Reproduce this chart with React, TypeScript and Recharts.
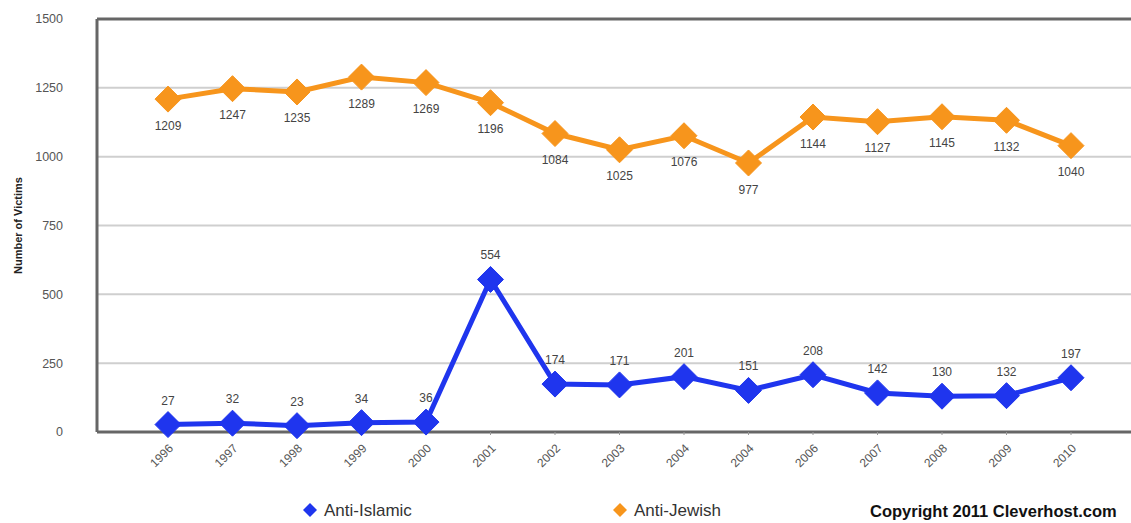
import { LineChart, Line, XAxis, YAxis, CartesianGrid, Legend, LabelList, ReferenceLine } from 'recharts';

const YEARS = ['1996', '1997', '1998', '1999', '2000', '2001', '2002', '2003', '2004', '2004', '2006', '2007', '2008', '2009', '2010'];
const ANTI_ISLAMIC = [27, 32, 23, 34, 36, 554, 174, 171, 201, 151, 208, 142, 130, 132, 197];
const ANTI_JEWISH = [1209, 1247, 1235, 1289, 1269, 1196, 1084, 1025, 1076, 977, 1144, 1127, 1145, 1132, 1040];
const Y_TICKS = [0, 250, 500, 750, 1000, 1250, 1500];

const BLUE = '#1f35ee';
const ORANGE = '#f7951c';
const FONT = '"Liberation Sans", Arial, sans-serif';

const data = YEARS.map((year, i) => ({
  year,
  islamic: ANTI_ISLAMIC[i],
  jewish: ANTI_JEWISH[i],
}));

// diamond marker
const Diamond = (color: string, r: number) => (props: any) => {
  const { cx, cy, index } = props;
  if (cx == null || cy == null) return <g key={index} />;
  return (
    <polygon
      key={index}
      points={`${cx},${cy - r} ${cx + r},${cy} ${cx},${cy + r} ${cx - r},${cy}`}
      fill={color}
      stroke={color}
      strokeWidth={1}
    />
  );
};

const YearTick = (props: any) => {
  const { x, y, payload } = props;
  return (
    <g transform={`translate(${x + 6},${y + 12})`}>
      <text textAnchor="end" transform="rotate(-45)" fill="#555" fontSize={12} fontFamily={FONT}>
        {payload.value}
      </text>
    </g>
  );
};

const LegendContent = () => (
  <div style={{ position: 'relative', height: 24, fontFamily: FONT }}>
    <svg width={1131} height={24} style={{ position: 'absolute', left: 0, top: 0 }}>
      <polygon points="310,5 317,12 310,19 303,12" fill={BLUE} />
      <text x={324} y={18} fontSize={17} fill="#333" fontFamily={FONT}>Anti-Islamic</text>
      <polygon points="620,5 627,12 620,19 613,12" fill={ORANGE} />
      <text x={634} y={18} fontSize={17} fill="#333" fontFamily={FONT}>Anti-Jewish</text>
      <text x={870} y={19} fontSize={16.5} fontWeight="bold" fill="#111" fontFamily={FONT}>Copyright 2011 Cleverhost.com</text>
    </svg>
  </div>
);

export default function App() {
  return (
    <div style={{ position: 'absolute', left: 0, top: 0, width: 1131, height: 523, background: '#fff' }}>
      <LineChart width={1131} height={523} data={data} margin={{ top: 19, right: 0, left: 0, bottom: 0 }}>
        <CartesianGrid horizontal vertical={false} stroke="#cfcfcf" strokeWidth={2} />
        <XAxis
          dataKey="year"
          allowDuplicatedCategory
          padding={{ left: 71, right: 60 }}
          tick={<YearTick />}
          interval={0}
          height={66}
          axisLine={{ stroke: '#666', strokeWidth: 3 }}
          tickLine={{ stroke: '#999' }}
          tickSize={3}
        />
        <YAxis
          domain={[0, 1500]}
          ticks={Y_TICKS}
          width={97}
          tickSize={0}
          tickMargin={34}
          tick={{ fill: '#555', fontSize: 12.5, fontFamily: FONT }}
          axisLine={{ stroke: '#666', strokeWidth: 3 }}
          label={{
            value: 'Number of Victims',
            angle: -90,
            position: 'insideLeft',
            offset: 18,
            style: { fontSize: 11, fontWeight: 'bold', fill: '#222', fontFamily: FONT, textAnchor: 'middle' },
          }}
        />
        <ReferenceLine y={1500} stroke="#666" strokeWidth={3} />
        <Legend verticalAlign="bottom" height={25} content={<LegendContent />} />
        <Line
          dataKey="islamic"
          stroke={BLUE}
          strokeWidth={5}
          dot={Diamond(BLUE, 13)}
          activeDot={false}
          isAnimationActive={false}
        >
          <LabelList dataKey="islamic" position="top" offset={20} fill="#444" fontSize={12} fontFamily={FONT} />
        </Line>
        <Line
          dataKey="jewish"
          stroke={ORANGE}
          strokeWidth={5}
          dot={Diamond(ORANGE, 13)}
          activeDot={false}
          isAnimationActive={false}
        >
          <LabelList dataKey="jewish" position="bottom" offset={22} fill="#444" fontSize={12} fontFamily={FONT} />
        </Line>
      </LineChart>
    </div>
  );
}
